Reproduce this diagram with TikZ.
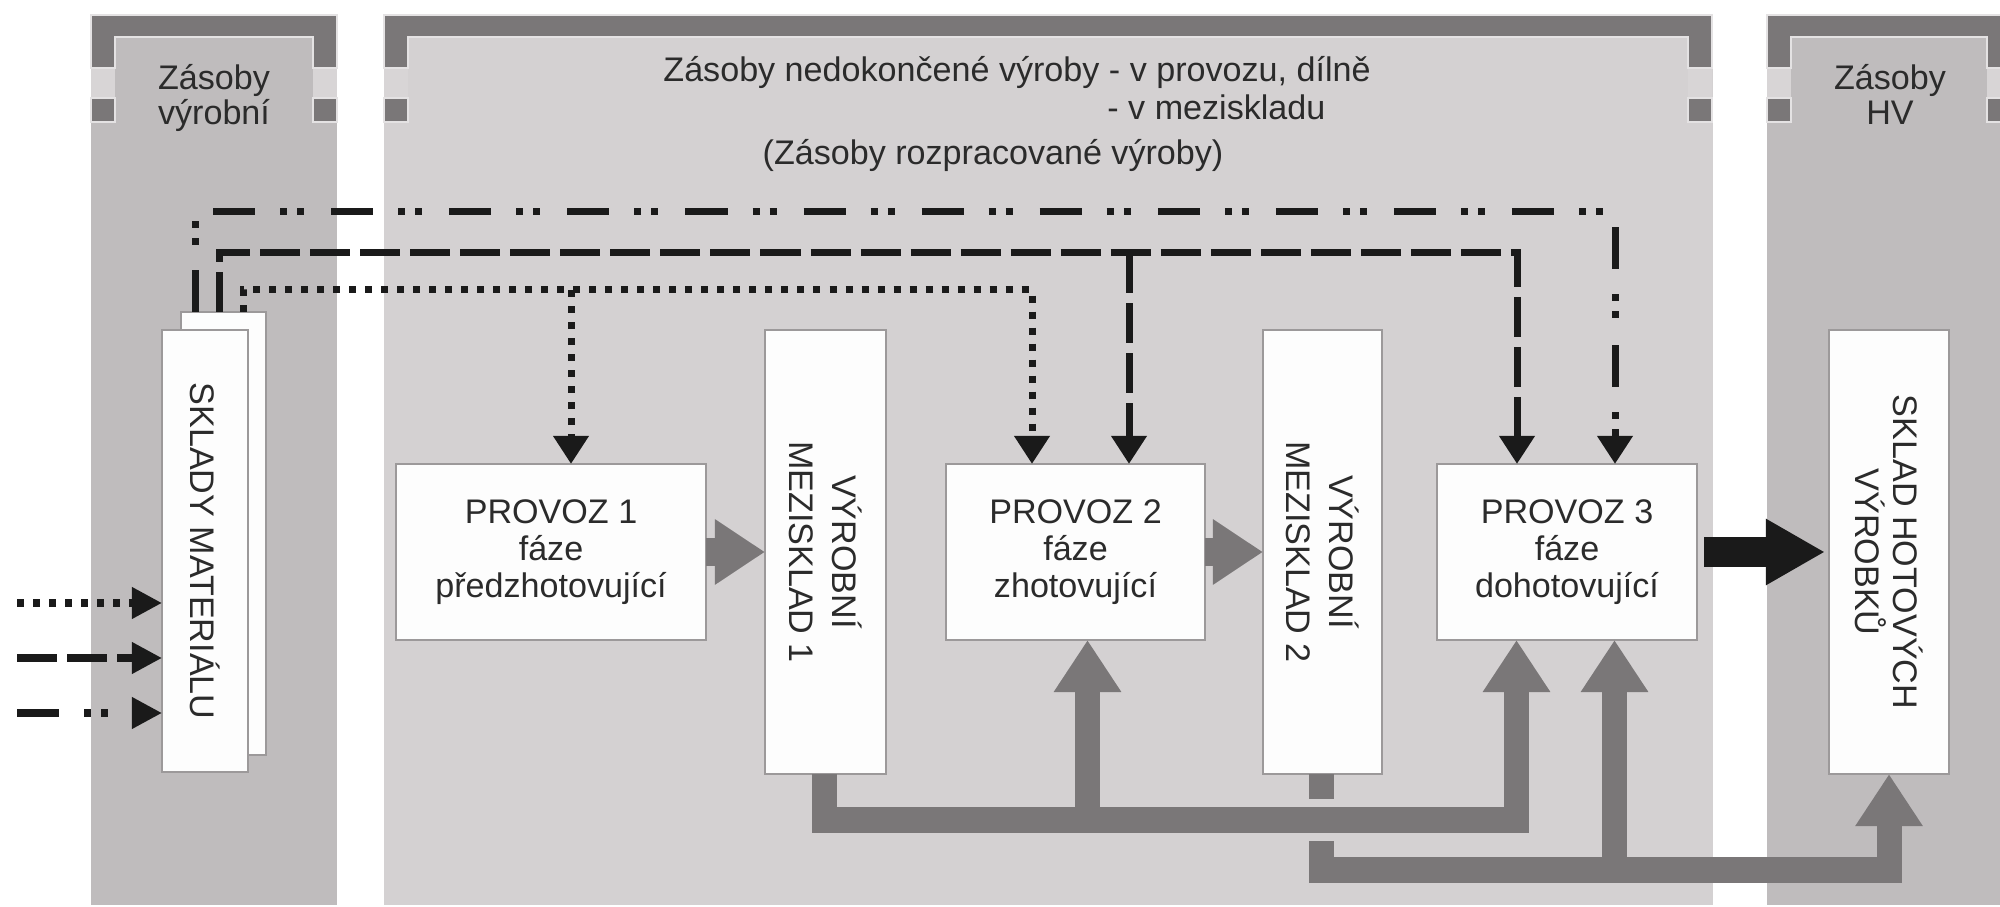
\documentclass[tikz,border=0pt]{standalone}
\usepackage{fontspec}
\setmainfont{Liberation Sans}
\usetikzlibrary{arrows.meta}

\definecolor{panelA}{HTML}{BFBCBD}
\definecolor{panelB}{HTML}{D4D1D2}
\definecolor{barc}{HTML}{7A7778}
\definecolor{gapc}{HTML}{D8D5D6}
\definecolor{halo}{HTML}{E4E2E3}
\definecolor{boxfill}{HTML}{FDFDFD}
\definecolor{boxline}{HTML}{9C999A}
\definecolor{ink}{HTML}{1A1A1A}
\definecolor{txt}{HTML}{2B2B2B}

% header bracket of a stock column: #1 left edge, #2 right edge
\newcommand\drawcolumnhead[2]{%
  \fill[gapc] (#1,68) rectangle ({#1+24},98);
  \fill[gapc] ({#2-24},68) rectangle (#2,98);
  \filldraw[fill=barc, draw=halo, line width=0.015cm]
    (#1,15) -- (#2,15) -- (#2,68) -- ({#2-24},68) -- ({#2-24},37)
    -- ({#1+24},37) -- ({#1+24},68) -- (#1,68) -- cycle;
  \filldraw[fill=barc, draw=halo, line width=0.015cm] (#1,98) rectangle ({#1+24},122);
  \filldraw[fill=barc, draw=halo, line width=0.015cm] ({#2-24},98) rectangle (#2,122);
}

\begin{document}
\begin{tikzpicture}[x=0.01cm, y=-0.01cm,
  every node/.style={font=\fontsize{9.7}{10.45}\selectfont, text=txt},
  box/.style={draw=boxline, fill=boxfill, line width=0.015cm, inner sep=0pt, outer sep=0pt},
  vtext/.style={rotate=-90, align=center, font=\fontsize{9.7}{12}\selectfont},
  conn/.style={draw=ink, line width=0.07cm, line join=miter},
  dotl/.style={conn, dash pattern=on 0.07cm off 0.09cm},
  dashl/.style={conn, dash pattern=on 0.40cm off 0.10cm},
  ddotl/.style={conn, dash pattern=on 0.42cm off 0.25cm on 0.07cm off 0.10cm on 0.07cm off 0.27cm},
  blacktip/.style={-{Triangle[length=0.28cm,width=0.34cm]}},
  intip/.style={-{Triangle[length=0.30cm,width=0.30cm]}},
  pipe/.style={draw=barc, line width=0.25cm, line join=miter},
  pipetip/.style={-{Triangle[length=0.52cm,width=0.64cm]}},
  garrow/.style={draw=barc, line width=0.27cm, -{Triangle[length=0.50cm,width=0.62cm]}},
  barrow/.style={draw=ink, line width=0.29cm, -{Triangle[length=0.59cm,width=0.62cm]}}
]
\useasboundingbox (0,0) rectangle (2000,907);

% stock columns
\fill[panelA] (91,15) rectangle (337,905);
\fill[panelB] (384,15) rectangle (1713,905);
\fill[panelA] (1767,15) rectangle (2011,905);
\drawcolumnhead{91}{337}
\drawcolumnhead{384}{1712}
\drawcolumnhead{1767}{2011}

% column titles
\node[anchor=base] (t1a) at (214,90) {Zásoby};
\node[anchor=base] (t1b) at (214,125) {výrobní};
\node[anchor=base] (t3a) at (1890,90) {Zásoby};
\node[anchor=base] (t3b) at (1890,125) {HV};
\node[anchor=base west] (t2a) at (651,82) {Zásoby nedokončené výroby - v provozu, dílně};
\node[anchor=base west] (t2b) at (1095,120) {- v meziskladu};
\node[anchor=base] (t2c) at (993,165) {(Zásoby rozpracované výroby)};

% material stores
\node[box, minimum width=0.85cm, minimum height=4.43cm] (skB) at (223.5,533.5) {};
\node[box, minimum width=0.86cm, minimum height=4.42cm] (skF) at (205,551) {};
\node[vtext] (skT) at (skF) {SKLADY MATERIÁLU};

% production stages
\node[box, minimum width=3.10cm, minimum height=1.76cm, align=center] (p1) at (551,552)
  {PROVOZ 1\\fáze\\předzhotovující};
\node[box, minimum width=2.59cm, minimum height=1.76cm, align=center] (p2) at (1075.5,552)
  {PROVOZ 2\\fáze\\zhotovující};
\node[box, minimum width=2.60cm, minimum height=1.76cm, align=center] (p3) at (1567,552)
  {PROVOZ 3\\fáze\\dohotovující};

% intermediate and finished goods stores
\node[box, minimum width=1.21cm, minimum height=4.44cm] (m1) at (825.5,552) {};
\node[vtext, font=\fontsize{9.7}{12.2}\selectfont] (m1t) at (m1) {VÝROBNÍ\\MEZISKLAD 1};
\node[box, minimum width=1.19cm, minimum height=4.44cm] (m2) at (1322.5,552) {};
\node[vtext, font=\fontsize{9.7}{12.2}\selectfont] (m2t) at (m2) {VÝROBNÍ\\MEZISKLAD 2};
\node[box, minimum width=1.20cm, minimum height=4.44cm] (shv) at (1889,552) {};
\node[vtext, font=\fontsize{9.7}{10.9}\selectfont] (shvt) at (shv) {SKLAD HOTOVÝCH\\VÝROBKŮ};

% incoming material flows
\coordinate (inA) at (17,603);
\coordinate (inB) at (17,658);
\coordinate (inC) at (17,713);
\draw[dotl, intip] (inA) -- (inA -| skF.west);
\draw[dashl, intip] (inB) -- (inB -| skF.west);
\draw[ddotl, intip] (inC) -- (inC -| skF.west);

% material supply lines to the stages
\coordinate (dotTurn) at (243,290);
\coordinate (dotA) at (571,290);
\coordinate (dotB) at (1032,290);
\coordinate (dashTurn) at (219,253);
\coordinate (dashA) at (1129,253);
\coordinate (dashB) at (1517,253);
\coordinate (ddTurn) at (195,212);
\coordinate (ddB) at (1615,212);

\draw[dotl, blacktip] (dotTurn |- skB.north) -- (dotTurn) -| (dotB |- p2.north);
\draw[dotl, blacktip] (dotA) -- (dotA |- p1.north);
\draw[dashl, blacktip] (dashTurn |- skB.north) -- (dashTurn) -| (dashB |- p3.north);
\draw[dashl, blacktip] (dashA) -- (dashA |- p2.north);
\draw[ddotl, blacktip] (ddTurn |- skB.north) -- (ddTurn) -| (ddB |- p3.north);

% flows between stages and stores
\draw[garrow] (p1.east) -- (m1.west);
\draw[garrow] (p2.east) -- (m2.west);
\draw[barrow, shorten <=0.07cm, shorten >=0.04cm] (p3.east) -- (shv.west);

% return pipes from the intermediate stores
\coordinate (pipe2L) at (1321.5,870);
\coordinate (pipe2R) at (1889,870);
\coordinate (pipe2M) at (1614.5,870);
\draw[pipe, pipetip] (pipe2L |- m2.south) -- (pipe2L) -- (pipe2R) -- (pipe2R |- shv.south);
\draw[pipe, pipetip] (pipe2M) -- (pipe2M |- p3.south);

\coordinate (pipe1L) at (824.5,820);
\coordinate (pipe1R) at (1516.5,820);
\coordinate (pipe1M) at (1087.5,820);
% bridge gap where the first pipe crosses the second
\draw[draw=panelB, line width=0.41cm] (pipe1L) -- (pipe1R);
\draw[pipe, pipetip] (pipe1L |- m1.south) -- (pipe1L) -- (pipe1R) -- (pipe1R |- p3.south);
\draw[pipe, pipetip] (pipe1M) -- (pipe1M |- p2.south);
\end{tikzpicture}
\end{document}
